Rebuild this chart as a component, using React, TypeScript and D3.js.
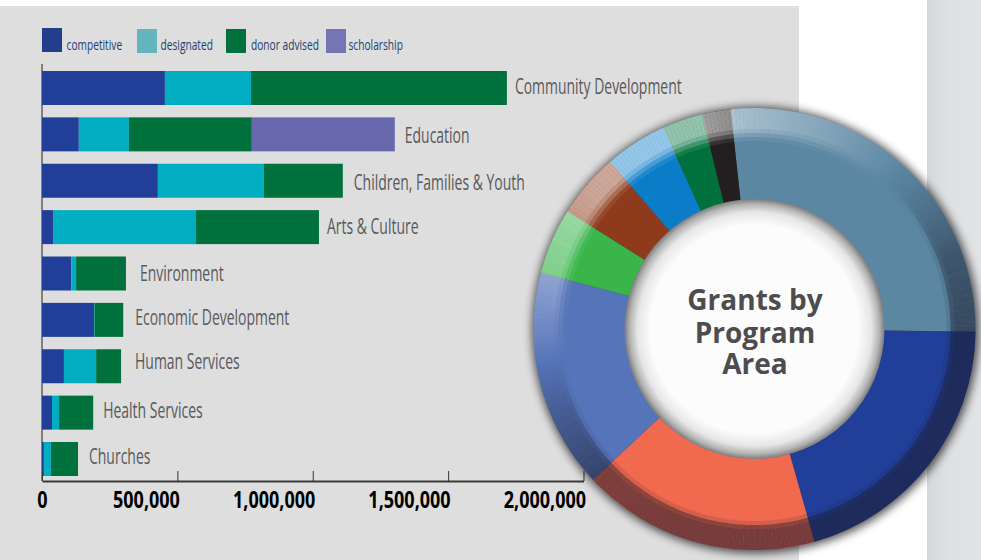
import React, { useEffect, useRef } from 'react';
import * as d3 from 'd3';

const categories = [
  'Community Development',
  'Education',
  'Children, Families & Youth',
  'Arts & Culture',
  'Environment',
  'Economic Development',
  'Human Services',
  'Health Services',
  'Churches',
];
const competitive = [454000, 136000, 428000, 41000, 108000, 192000, 81000, 37000, 7000];
const designated = [318000, 185000, 391000, 528000, 18000, 2000, 119000, 26000, 26000];
const donorAdvised = [945000, 454000, 292000, 454000, 184000, 106000, 92000, 126000, 100000];
const scholarship = [0, 528000, 0, 0, 0, 0, 0, 0, 0];
const xTicks = [0, 500000, 1000000, 1500000, 2000000];
const seriesNames = ['competitive', 'designated', 'donor advised', 'scholarship'];

const barColors = ['#213f99', '#00adc1', '#00703c', '#6868ae'];
const legendColors = ['#233f8c', '#63b6bd', '#00703c', '#7575b6'];
const sliceColors = ['#5b87a3', '#213f99', '#f1694f', '#5674b9', '#39b54a', '#8e3a1c', '#0a7cc8', '#00703c', '#231f20'];

// hand placed nudges for the bar labels
const labelGaps = [8, 10, 11, 8, 14, 12, 14, 10, 11];
const labelShifts = [-1, 2, 2, 0, 0, -2, -4, -2, -2];

// bevel light around the ring: angle in degrees -> white (+) or dark (-) strength
const bevelAngles = [0, 20, 40, 50, 70, 90, 130, 165, 200, 225, 245, 265, 285, 310, 345, 360];
const bevelLight = [0.42, 0.24, 0.02, -0.12, -0.46, -0.58, -0.55, -0.58, -0.58, -0.55, -0.28, 0.08, 0.36, 0.55, 0.58, 0.42];

// soft inner edge of the bevel: [inner radius, outer radius, strength on lit side, strength on dark side]
const bevelBands = [
  [188, 192, 0.15, 0],
  [192, 196, 0.45, 0.2],
  [196, 200, 0.8, 0.85],
  [200, 224, 1, 1],
];

const FONT = '"Open Sans", "Noto Sans", sans-serif';

export default function App() {
  const svgRef = useRef<SVGSVGElement>(null);

  useEffect(() => {
    if (!svgRef.current) return;
    const svg = d3.select(svgRef.current);
    svg.selectAll('*').remove();

    const defs = svg.append('defs');
    const band = defs.append('linearGradient').attr('id', 'band');
    band.append('stop').attr('offset', '0%').attr('stop-color', '#d6d7d9');
    band.append('stop').attr('offset', '40%').attr('stop-color', '#dfe0e2');
    band.append('stop').attr('offset', '100%').attr('stop-color', '#e2e3e5');

    const hole = defs.append('radialGradient').attr('id', 'hole');
    hole.append('stop').attr('offset', '80%').attr('stop-color', '#fcfcfc');
    hole.append('stop').attr('offset', '90%').attr('stop-color', '#e6e6e6');
    hole.append('stop').attr('offset', '96%').attr('stop-color', '#b4b4b4');
    hole.append('stop').attr('offset', '100%').attr('stop-color', '#7c7c7c');

    defs.append('filter').attr('id', 'soft').attr('x', '-20%').attr('y', '-20%').attr('width', '140%').attr('height', '140%')
      .append('feGaussianBlur').attr('stdDeviation', 5);

    const cx = 754.5;
    const cy = 329;
    const rOuter = 221;
    const rInner = 130;

    defs.append('clipPath').attr('id', 'ringClip')
      .append('circle').attr('cx', cx).attr('cy', cy).attr('r', rOuter);

    // background panels
    svg.append('rect').attr('width', 981).attr('height', 560).attr('fill', '#fff');
    svg.append('rect').attr('y', 6).attr('width', 799).attr('height', 554).attr('fill', '#dedede');
    svg.append('rect').attr('x', 927).attr('width', 54).attr('height', 560).attr('fill', 'url(#band)');

    // scales
    const x = d3.scaleLinear().domain([0, 2000000]).range([42, 583.5]);
    const y = d3.scaleBand<string>().domain(categories).range([71, 476]).paddingInner(0.267);

    const rows = categories.map((name, i) => ({
      name,
      competitive: competitive[i],
      designated: designated[i],
      'donor advised': donorAdvised[i],
      scholarship: scholarship[i],
    }));
    const stacked = d3.stack<any>().keys(seriesNames)(rows);
    const totals = categories.map((_, i) => competitive[i] + designated[i] + donorAdvised[i] + scholarship[i]);

    // legend
    const legendX = [42, 137, 226, 326];
    const legendTextX = [66.5, 160.5, 251, 348.5];
    seriesNames.forEach((name, i) => {
      svg.append('rect')
        .attr('x', legendX[i])
        .attr('y', i === 0 ? 28 : 29)
        .attr('width', 20)
        .attr('height', 24)
        .attr('fill', legendColors[i]);
      svg.append('text')
        .attr('transform', `translate(${legendTextX[i]},50) scale(0.68,1)`)
        .attr('font-family', FONT)
        .attr('font-size', 15)
        .attr('fill', '#1f3f6f')
        .text(name);
    });

    // y axis line
    svg.append('line')
      .attr('x1', 42).attr('x2', 42)
      .attr('y1', 64).attr('y2', 481)
      .attr('stroke', '#222')
      .attr('stroke-width', 1);

    // bars
    stacked.forEach((layer, s) => {
      svg.append('g')
        .attr('fill', barColors[s])
        .selectAll('rect')
        .data(layer)
        .enter()
        .append('rect')
        .attr('x', d => x(d[0]))
        .attr('y', d => y(d.data.name) as number)
        .attr('width', d => x(d[1]) - x(d[0]))
        .attr('height', y.bandwidth());
    });

    // bar labels
    svg.append('g')
      .selectAll('text')
      .data(categories)
      .enter()
      .append('text')
      .attr('transform', (d, i) => {
        const ty = (y(d) as number) + y.bandwidth() / 2 + 7 + labelShifts[i];
        return `translate(${x(totals[i]) + labelGaps[i]},${ty}) scale(0.665,1)`;
      })
      .attr('font-family', FONT)
      .attr('font-size', 21)
      .attr('fill', '#58595b')
      .text(d => d);

    // x axis
    const axis = svg.append('g')
      .attr('transform', 'translate(0,481)')
      .call(
        d3.axisBottom(x)
          .tickValues(xTicks)
          .tickSize(-10)
          .tickSizeOuter(0)
          .tickPadding(0)
          .tickFormat(d => d3.format(',')(d as number))
      );
    axis.select('.domain').attr('stroke', '#3a3a3a').attr('stroke-width', 2);
    axis.selectAll('.tick line').attr('stroke', '#333').attr('stroke-width', 1);
    axis.selectAll<SVGTextElement, number>('.tick text')
      .attr('font-family', FONT)
      .attr('font-weight', 700)
      .attr('font-size', 22.5)
      .attr('fill', '#000')
      .attr('text-anchor', d => (d === 0 ? 'middle' : 'end'))
      .attr('transform', d => `translate(${d === 0 ? 0 : 2},27) scale(0.8,1)`)
      .attr('y', 0)
      .attr('dy', 0);

    // donut, sized by each category's total
    const toRad = Math.PI / 180;
    const pie = d3.pie<number>().sort(null).startAngle(-6.2 * toRad).endAngle(353.8 * toRad);
    const arcs = pie(totals);
    const arc = d3.arc<d3.PieArcDatum<number>>().innerRadius(rInner - 2).outerRadius(rOuter);

    svg.append('circle')
      .attr('cx', cx + 1)
      .attr('cy', cy + 1)
      .attr('r', rOuter + 2)
      .attr('fill', '#000')
      .attr('opacity', 0.7)
      .attr('filter', 'url(#soft)');

    const donut = svg.append('g').attr('transform', `translate(${cx},${cy})`);
    donut.selectAll('path')
      .data(arcs)
      .enter()
      .append('path')
      .attr('d', arc)
      .attr('fill', (_, i) => sliceColors[i]);

    // bevel, drawn as thin wedges so the light can change round the ring
    const light = d3.scaleLinear().domain(bevelAngles).range(bevelLight);
    const bevel = svg.append('g')
      .attr('clip-path', 'url(#ringClip)')
      .append('g')
      .attr('transform', `translate(${cx},${cy})`);
    bevelBands.forEach(([r0, r1, lit, dark]) => {
      const wedge = d3.arc<number>()
        .innerRadius(r0)
        .outerRadius(r1)
        .startAngle(a => a * toRad)
        .endAngle(a => (a + 1.01) * toRad);
      bevel.append('g')
        .selectAll('path')
        .data(d3.range(0, 360, 1))
        .enter()
        .append('path')
        .attr('d', wedge)
        .attr('fill', a => (light(a) > 0 ? '#fff' : '#1c1c2c'))
        .attr('fill-opacity', a => Math.abs(light(a)) * (light(a) > 0 ? lit : dark));
    });

    // hole
    svg.append('circle')
      .attr('cx', cx)
      .attr('cy', cy)
      .attr('r', rInner)
      .attr('fill', 'url(#hole)');

    const title = ['Grants by', 'Program', 'Area'];
    const titleY = [310, 343, 374];
    title.forEach((line, i) => {
      svg.append('text')
        .attr('x', cx + 0.5)
        .attr('y', titleY[i])
        .attr('text-anchor', 'middle')
        .attr('font-family', FONT)
        .attr('font-weight', 700)
        .attr('font-size', 28)
        .attr('fill', '#4d4d4f')
        .text(line);
    });
  }, []);

  return (
    <svg
      ref={svgRef}
      width={981}
      height={560}
      style={{ position: 'absolute', left: 0, top: 0, display: 'block' }}
    ></svg>
  );
}
